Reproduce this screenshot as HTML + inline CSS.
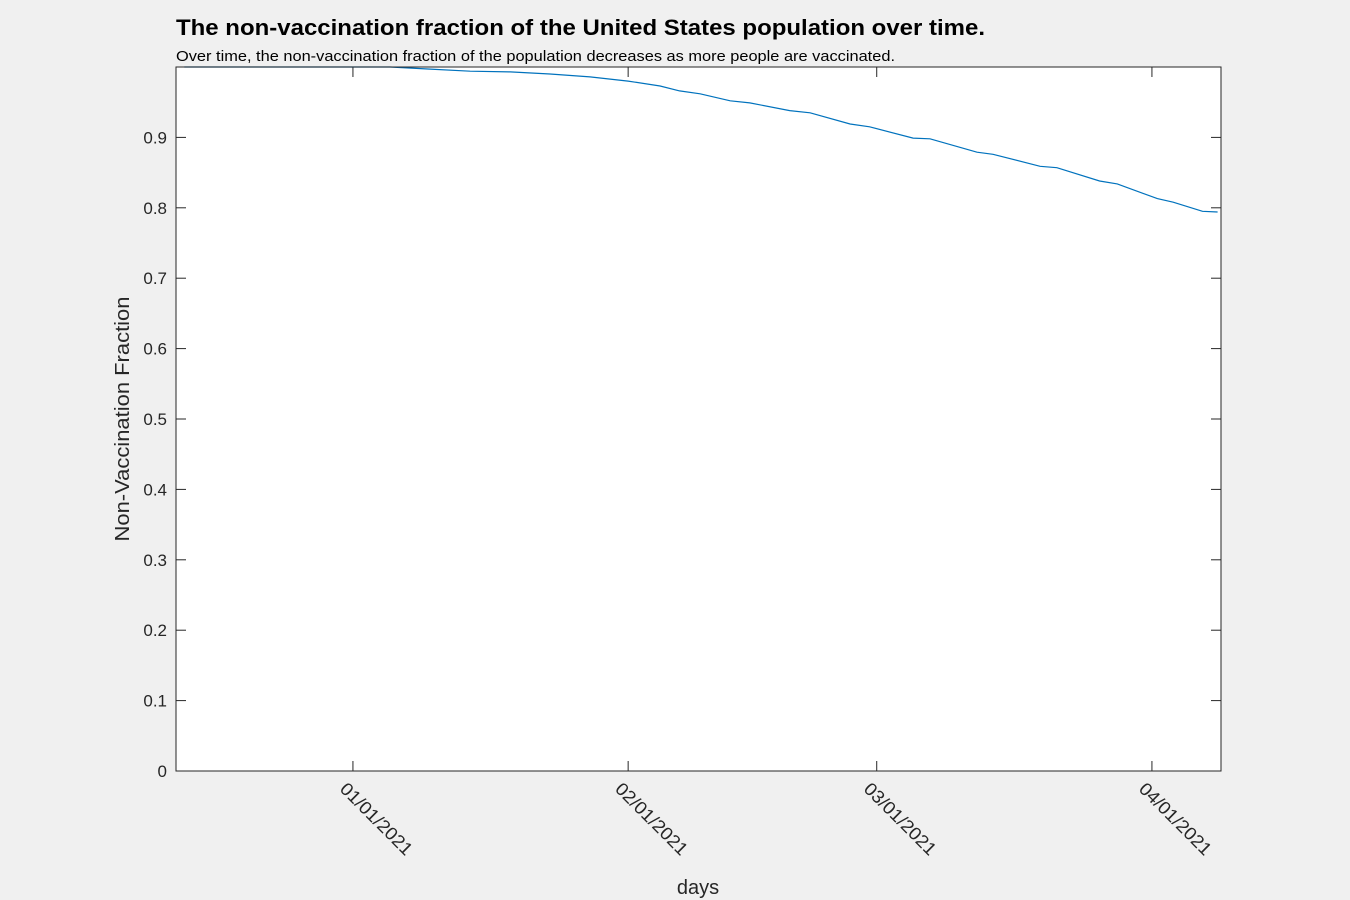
<!DOCTYPE html>
<html><head><meta charset="utf-8"><style>
body{margin:0;background:#f0f0f0;}
svg{display:block;font-family:"Liberation Sans",Arial,sans-serif;}
</style></head><body>
<svg id="chart" width="1350" height="900">
<rect x="0" y="0" width="1350" height="900" fill="#f0f0f0"/>
<rect x="176" y="67" width="1045" height="704" fill="#fff"/>
<text x="176" y="35" font-size="22" font-weight="bold" fill="#000" textLength="809" lengthAdjust="spacingAndGlyphs">The non-vaccination fraction of the United States population over time.</text>
<text x="176" y="61" font-size="15" fill="#000" textLength="719" lengthAdjust="spacingAndGlyphs">Over time, the non-vaccination fraction of the population decreases as more people are vaccinated.</text>
<text x="698" y="894" font-size="20" fill="#262626" text-anchor="middle">days</text>
<text transform="translate(129,419) rotate(-90)" font-size="20" fill="#262626" text-anchor="middle" textLength="245" lengthAdjust="spacingAndGlyphs">Non-Vaccination Fraction</text>
<g id="axes"></g>
<path id="line" fill="none" stroke="#0072bd" stroke-width="1.2"/>
<rect x="176" y="67" width="1045" height="704" fill="none" stroke="#262626" stroke-width="1"/>
</svg>
<script>
// days relative to 01/01/2021
const days = [-19,-0.3,4.2,8.7,13.2,17.7,22.2,26.7,31,34.6,36.8,39.1,42.5,44.7,49.2,51.5,56,58.2,63.1,65,70.3,72.1,77.4,79.3,84.1,86.1,90.6,92.4,95.7,97.4];
const values = [1.0,1.0,1.0,0.997,0.994,0.993,0.990,0.986,0.980,0.973,0.966,0.962,0.952,0.949,0.938,0.935,0.919,0.915,0.899,0.898,0.879,0.876,0.859,0.857,0.838,0.834,0.813,0.808,0.795,0.794];
const xTickDays = [0,31,59,90];
const xTickLabels = ["01/01/2021","02/01/2021","03/01/2021","04/01/2021"];
const yTicks = [0,0.1,0.2,0.3,0.4,0.5,0.6,0.7,0.8,0.9];
const yTickLabels = ["0","0.1","0.2","0.3","0.4","0.5","0.6","0.7","0.8","0.9"];
const X0=176,X1=1221,Y0=771,Y1=67,D0=-19.93,D1=97.78;
const xs=d=>X0+(d-D0)/(D1-D0)*(X1-X0);
const ys=v=>Y0-v*(Y0-Y1);
const NS="http://www.w3.org/2000/svg";
const ax=document.getElementById('axes');
function mk(t,a){const e=document.createElementNS(NS,t);for(const k in a)e.setAttribute(k,a[k]);return e;}
yTicks.forEach((v,i)=>{
  const y=ys(v);
  const t1=mk('line',{x1:X0,x2:X0+10,y1:y,y2:y,stroke:'#262626'});
  
  
  ax.appendChild(t1);
  const t2=mk('line',{x1:X1-10,x2:X1,y1:y,y2:y,stroke:'#262626'});
  
  
  ax.appendChild(t2);
  const l=mk('text',{x:X0-9,y:y+6,'font-size':17,fill:'#262626','text-anchor':'end'});
  l.textContent=yTickLabels[i];
  
  
  ax.appendChild(l);
});
xTickDays.forEach((d,i)=>{
  const x=xs(d);
  const t1=mk('line',{x1:x,x2:x,y1:Y0,y2:Y0-10,stroke:'#262626'});
  
  
  ax.appendChild(t1);
  const t2=mk('line',{x1:x,x2:x,y1:Y1,y2:Y1+10,stroke:'#262626'});
  
  
  ax.appendChild(t2);
  const l=mk('text',{transform:`translate(${x-14},790) rotate(45)`,'font-size':18,fill:'#262626',textLength:'94',lengthAdjust:'spacingAndGlyphs'});
  l.textContent=xTickLabels[i];
  
  
  ax.appendChild(l);
});
document.getElementById('line').setAttribute('d',days.map((d,i)=>(i?'L':'M')+xs(d).toFixed(1)+' '+ys(values[i]).toFixed(1)).join(' '));
</script>
</body></html>
